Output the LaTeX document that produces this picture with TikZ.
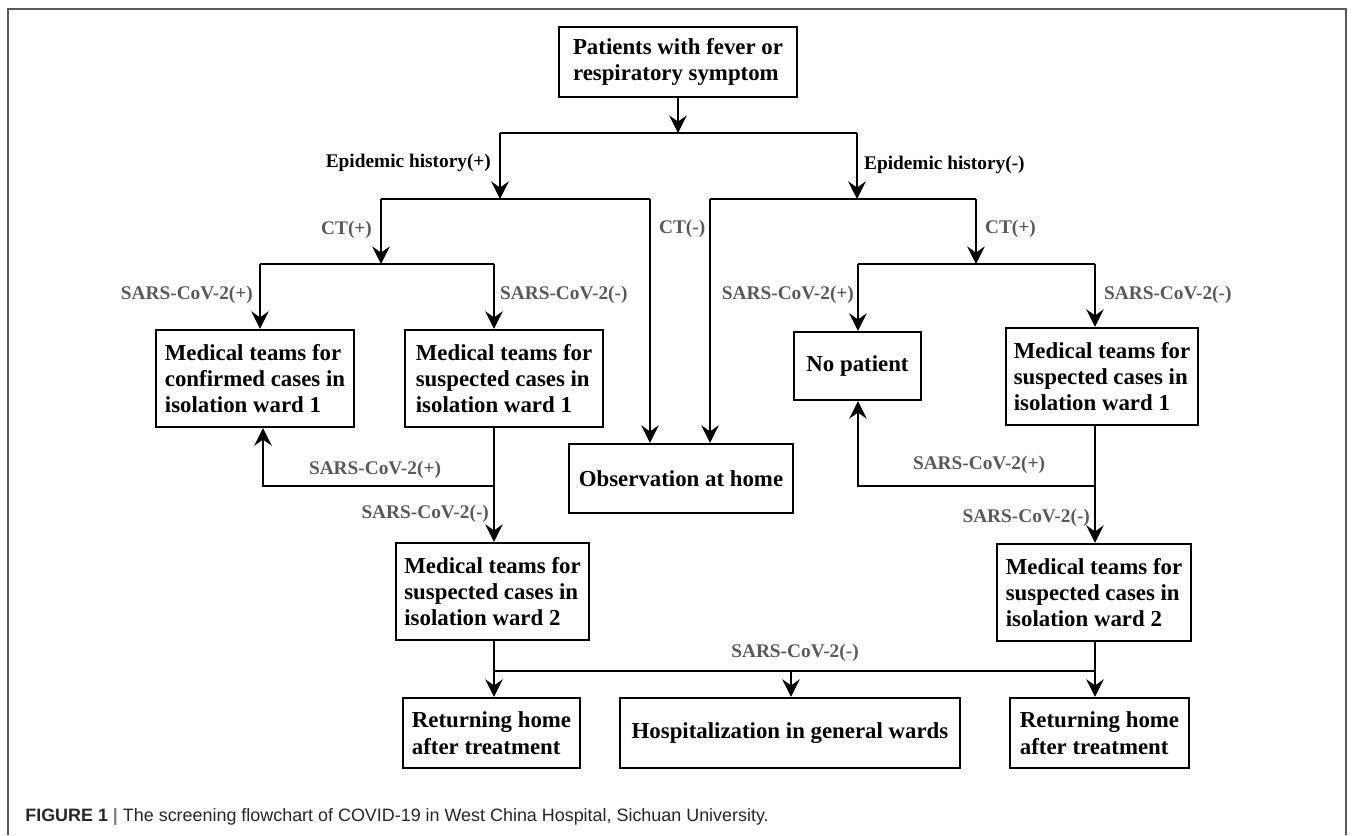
\documentclass[tikz,border=0pt]{standalone}
\usepackage{fontspec}
\setmainfont{Liberation Serif}
\newfontfamily\captionfont{Liberation Sans}
\usetikzlibrary{arrows.meta}
\definecolor{labelgray}{HTML}{595959}

\begin{document}
\begin{tikzpicture}[x=0.02cm, y=-0.02cm, >={Stealth[length=10pt,width=10pt,inset=3.5pt]},
    box/.style n args={2}{draw, line width=1.3pt, align=left, inner sep=0pt, minimum width=#1*0.02cm, minimum height=#2*0.02cm, font=\bfseries\fontsize{13}{15}\selectfont},
    link/.style={line width=1.2pt},
    flow/.style={line width=1.2pt, ->},
    lbl/.style={font=\bfseries\fontsize{11}{13}\selectfont, text=labelgray, inner sep=1pt},
    hlbl/.style={font=\bfseries\fontsize{11}{13}\selectfont, inner sep=1pt},
]

        \useasboundingbox (0,0) rectangle (1358,835);

        % Frame round the figure
        \draw[gray!70!black, line width=0.6pt] (8,835) -- (8,9) -- (1346,9) -- (1346,835);

        % Boxes
        \node[box={238}{70}] (patients) at (678,62) {Patients with fever or\\respiratory symptom};
        \node[box={198}{97}] (conf1) at (255,378.5) {Medical teams for\\confirmed cases in\\isolation ward 1};
        \node[box={198}{97}] (susp1L) at (504,378.5) {Medical teams for\\suspected cases in\\isolation ward 1};
        \node[box={127}{68}] (nopat) at (857.5,366) {No patient};
        \node[box={192}{97}] (susp1R) at (1102,376.5) {Medical teams for\\suspected cases in\\isolation ward 1};
        \node[box={224}{69}] (obs) at (681,478.5) {Observation at home};
        \node[box={193}{97}] (ward2L) at (492.5,591.5) {Medical teams for\\suspected cases in\\isolation ward 2};
        \node[box={194}{97}] (ward2R) at (1094,592.5) {Medical teams for\\suspected cases in\\isolation ward 2};
        \node[box={177}{70}] (homeL) at (491.5,733) {Returning home\\after treatment};
        \node[box={340}{70}] (hosp) at (790,733) {Hospitalization in general wards};
        \node[box={179}{70}] (homeR) at (1099.5,733) {Returning home\\after treatment};

        % Branch points
        \coordinate (ehsplit) at (678,133);
        \coordinate (ehP) at (500,133);
        \coordinate (ehN) at (857,133);
        \coordinate (ctPsplit) at (500,199);
        \coordinate (ctP) at (381,199);
        \coordinate (ctN) at (650,199);
        \coordinate (ctNsplit) at (857,199);
        \coordinate (ctN2) at (710,199);
        \coordinate (ctP2) at (976,199);
        \coordinate (sarsL) at (381,264);
        \coordinate (sarsLP) at (260,264);
        \coordinate (sarsLN) at (494,264);
        \coordinate (sarsR) at (976,264);
        \coordinate (sarsRP) at (858,264);
        \coordinate (sarsRN) at (1095,264);
        \coordinate (retestL) at (494,486);
        \coordinate (backL) at (263,486);
        \coordinate (retestR) at (1095,486);
        \coordinate (backR) at (858,486);
        \coordinate (outL) at (494,671);
        \coordinate (outM) at (791,671);
        \coordinate (outR) at (1095,671);

        % Epidemic history
        \draw[flow] (patients.south) -- (ehsplit);
        \draw[link] (ehP) -- (ehN);
        \draw[flow] (ehP) -- (ctPsplit);
        \draw[flow] (ehN) -- (ctNsplit);

        % CT
        \draw[link] (ctP) -- (ctN);
        \draw[link] (ctN2) -- (ctP2);
        \draw[flow] (ctP) -- (sarsL);
        \draw[flow] (ctP2) -- (sarsR);
        \draw[flow] (ctN) -- (ctN |- obs.north);
        \draw[flow] (ctN2) -- (ctN2 |- obs.north);

        % SARS-CoV-2 tests
        \draw[link] (sarsLP) -- (sarsLN);
        \draw[link] (sarsRP) -- (sarsRN);
        \draw[flow] (sarsLP) -- (sarsLP |- conf1.north);
        \draw[flow] (sarsLN) -- (sarsLN |- susp1L.north);
        \draw[flow] (sarsRP) -- (sarsRP |- nopat.north);
        \draw[flow] (sarsRN) -- (sarsRN |- susp1R.north);

        % Retest in isolation ward 1
        \draw[flow] (sarsLN |- susp1L.south) -- (sarsLN |- ward2L.north);
        \draw[flow] (retestL) -- (backL) -- (backL |- conf1.south);
        \draw[flow] (sarsRN |- susp1R.south) -- (sarsRN |- ward2R.north);
        \draw[flow] (retestR) -- (backR) -- (backR |- nopat.south);

        % Outcome
        \draw[flow] (outL |- ward2L.south) -- (outL |- homeL.north);
        \draw[link] (outL) -- (outR);
        \draw[flow] (outM) -- (outM |- hosp.north);
        \draw[flow] (outR |- ward2R.south) -- (outR |- homeR.north);

        % Labels
        \node[hlbl, anchor=east] (ehPlbl) at (493,163) {Epidemic history(+)};
        \node[hlbl, anchor=west] (ehNlbl) at (862,165) {Epidemic history(-)};
        \node[lbl, anchor=east] (ctPlbl) at (374,230) {CT(+)};
        \node[lbl, anchor=west] (ctNlbl) at (657,229) {CT(-)};
        \node[lbl, anchor=west] (ctP2lbl) at (983,229) {CT(+)};
        \node[lbl, anchor=east] (sarsLPlbl) at (255,295) {SARS-CoV-2(+)};
        \node[lbl, anchor=west] (sarsLNlbl) at (498,295) {SARS-CoV-2(-)};
        \node[lbl, anchor=east] (sarsRPlbl) at (856,295) {SARS-CoV-2(+)};
        \node[lbl, anchor=west] (sarsRNlbl) at (1102,295) {SARS-CoV-2(-)};
        \node[lbl] (backLlbl) at (375,470) {SARS-CoV-2(+)};
        \node[lbl, anchor=east] (retestLlbl) at (491,514) {SARS-CoV-2(-)};
        \node[lbl] (backRlbl) at (979,465) {SARS-CoV-2(+)};
        \node[lbl, anchor=east] (retestRlbl) at (1092,518) {SARS-CoV-2(-)};
        \node[lbl] (outlbl) at (795,653) {SARS-CoV-2(-)};

        % Caption
        \node[anchor=west, inner sep=0pt, font=\captionfont\fontsize{10.2}{12}\selectfont, text=black!85] (caption) at (25,817) {\textbf{FIGURE 1} {\color{gray}\textbf{|}} The screening flowchart of COVID-19 in West China Hospital, Sichuan University.};

    \end{tikzpicture}
\end{document}
